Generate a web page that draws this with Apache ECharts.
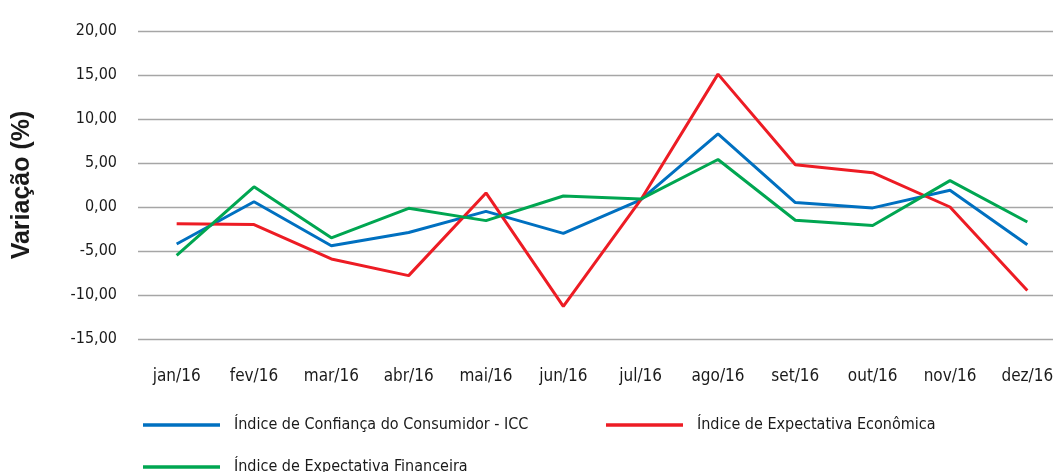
<!DOCTYPE html>
<html><head><meta charset="utf-8">
<script src="https://cdn.jsdelivr.net/npm/echarts@6/dist/echarts.min.js"></script>
<style>html,body{margin:0;padding:0;background:#fff}#c{width:1053px;height:472px}</style>
</head><body><div id="c"></div>
<script>
const categories = ['jan/16','fev/16','mar/16','abr/16','mai/16','jun/16','jul/16','ago/16','set/16','out/16','nov/16','dez/16'];
const icc = [-4.2, 0.6, -4.4, -2.9, -0.5, -3.0, 0.8, 8.3, 0.5, -0.1, 1.9, -4.3];
const economica = [-1.9, -2.0, -5.9, -7.8, 1.6, -11.3, 0.8, 15.1, 4.8, 3.9, 0.0, -9.5];
const financeira = [-5.5, 2.3, -3.5, -0.15, -1.55, 1.25, 0.9, 5.4, -1.5, -2.1, 3.0, -1.7];
const names = ['Índice de Confiança do Consumidor - ICC','Índice de Expectativa Econômica','Índice de Expectativa Financeira'];
const colors = ['#0070C0','#ED1C24','#00A651'];
const FONT = "'Liberation Sans Narrow','DejaVu Sans Condensed','Roboto Condensed',sans-serif";
const chart = echarts.init(document.getElementById('c'));
const legendBase = {orient:'horizontal', itemWidth:77, itemHeight:3.5, icon:'rect',
  textStyle:{fontFamily:FONT,fontSize:16,color:'#1a1a1a', padding:[0,0,0,9]}, itemGap:10, selectedMode:false};
chart.setOption({
  animation:false,
  color: colors,
  grid:{left:138,right:-13,top:31,bottom:133,containLabel:false, outerBoundsMode:'none'},
  legend:[
    Object.assign({}, legendBase, {data:[names[0]], left:138, top:412}),
    Object.assign({}, legendBase, {data:[names[1]], left:601, top:412}),
    Object.assign({}, legendBase, {data:[names[2]], left:138, top:454})
  ],
  xAxis:{type:'category', data:categories, boundaryGap:true,
    axisLine:{show:false}, axisTick:{show:false},
    axisLabel:{margin:29, fontFamily:FONT, fontSize:17, color:'#1a1a1a'}},
  yAxis:{type:'value', min:-15, max:20, interval:5,
    name:'Variação (%)', nameLocation:'middle', nameGap:103, nameRotate:90,
    nameTextStyle:{fontFamily:"'Liberation Sans',Arial,sans-serif", fontWeight:'bold', fontSize:25, color:'#1a1a1a'},
    axisLine:{show:false}, axisTick:{show:false},
    axisLabel:{margin:21, fontFamily:FONT, fontSize:16, color:'#1a1a1a',
      formatter:v=>v.toFixed(2).replace('.',',')},
    splitLine:{lineStyle:{color:'#a6a6a6', width:1.3}}},
  series:[
    {name:names[0], type:'line', data:icc, symbol:'none', lineStyle:{width:3, color:colors[0]}},
    {name:names[1], type:'line', data:economica, symbol:'none', lineStyle:{width:3, color:colors[1]}},
    {name:names[2], type:'line', data:financeira, symbol:'none', lineStyle:{width:3, color:colors[2]}}
  ]
});
</script></body></html>
